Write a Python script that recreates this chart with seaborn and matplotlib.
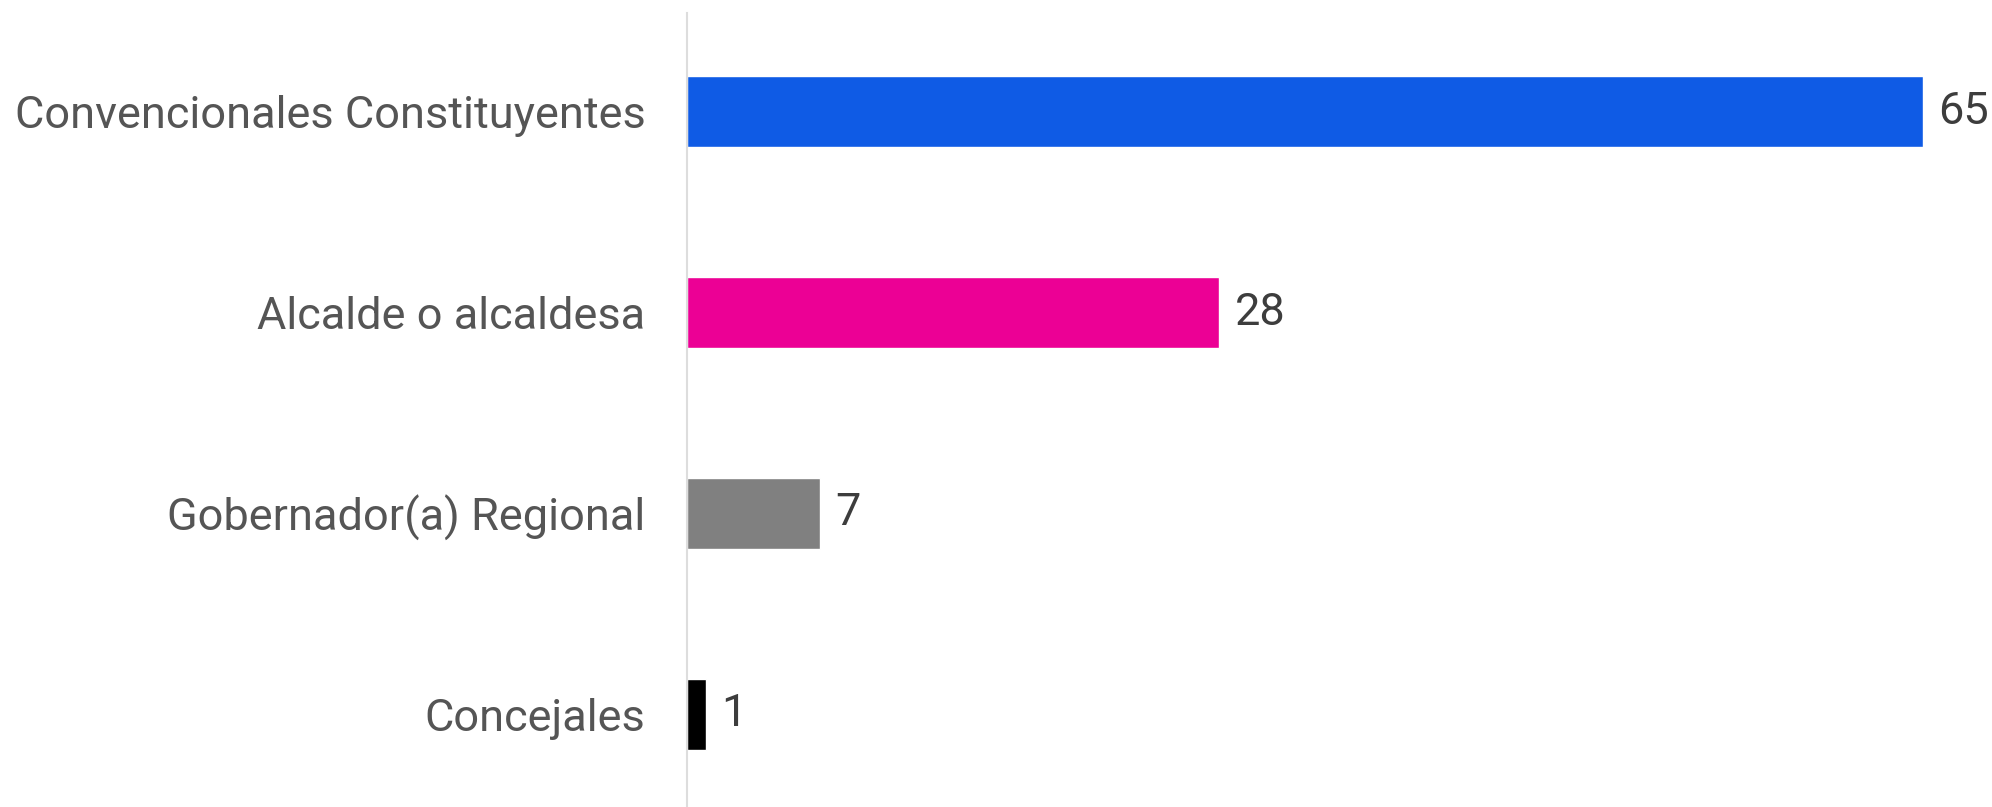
import matplotlib
matplotlib.use("Agg")
import matplotlib.pyplot as plt
import pandas as pd
import seaborn as sns

# data
categories = ["Convencionales Constituyentes", "Alcalde o alcaldesa",
              "Gobernador(a) Regional", "Concejales"]
values = [65, 28, 7, 1]
bar_colors = ["#0F5BE5", "#EC0095", "#808080", "#000000"]

df = pd.DataFrame({"cargo": categories, "valor": values})

sns.set_theme(style="white")
plt.rcParams["font.family"] = ["Roboto", "DejaVu Sans"]

fig = plt.figure(figsize=(19.92, 8.07), dpi=100)
ax = fig.add_axes([0.3449, 0.0, 0.6205, 0.9839])

sns.barplot(data=df, y="cargo", x="valor", hue="cargo", palette=bar_colors,
            orient="h", width=0.354, legend=False, saturation=1, ax=ax)

for cont in ax.containers:
    ax.bar_label(cont, fmt="%d", padding=11, fontsize=32.5, color="#3d3d3d")

ax.set_xlim(0, 65)
ax.set_ylim(3.463, -0.493)
ax.set_xlabel("")
ax.set_ylabel("")
ax.set_xticks([])
ax.tick_params(axis="y", length=0, pad=30, labelsize=32.5, labelcolor="#555555")

for side in ["top", "right", "bottom"]:
    ax.spines[side].set_visible(False)
ax.spines["left"].set_color("#DDDDDD")
ax.spines["left"].set_linewidth(1.5)

fig.savefig("out.png", dpi=100)
